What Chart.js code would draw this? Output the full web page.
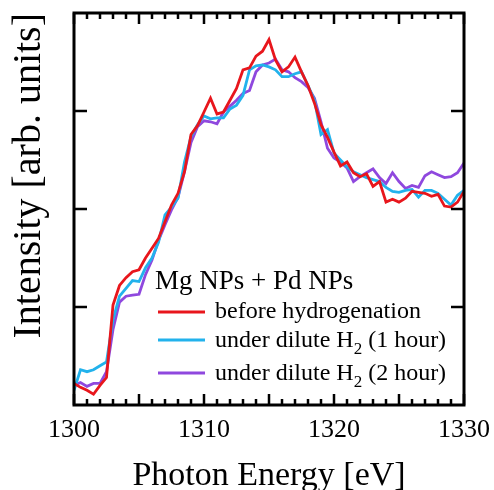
<!DOCTYPE html>
<html><head><meta charset="utf-8">
<script src="https://cdn.jsdelivr.net/npm/chart.js@4"></script>
<style>html,body{margin:0;padding:0;background:#fff;}#wrap{width:494px;height:490px;}</style>
</head><body><div id="wrap"><canvas id="c" width="494" height="490"></canvas></div>
<script>
const energies = [1300,1300.5,1301,1301.5,1302,1302.5,1303,1303.5,1304,1304.5,1305,1305.5,1306,1306.5,1307,1307.5,1308,1308.5,1309,1309.5,1310,1310.5,1311,1311.5,1312,1312.5,1313,1313.5,1314,1314.5,1315,1315.5,1316,1316.5,1317,1317.5,1318,1318.5,1319,1319.5,1320,1320.5,1321,1321.5,1322,1322.5,1323,1323.5,1324,1324.5,1325,1325.5,1326,1326.5,1327,1327.5,1328,1328.5,1329,1329.5,1330];
const before = [0.22,0.18,0.15,0.11,0.20,0.28,1.02,1.22,1.30,1.36,1.38,1.50,1.60,1.70,1.87,2.04,2.16,2.38,2.76,2.85,2.99,3.13,2.97,2.99,3.11,3.23,3.42,3.44,3.56,3.61,3.73,3.52,3.40,3.45,3.55,3.40,3.26,3.08,2.86,2.73,2.58,2.44,2.48,2.37,2.33,2.36,2.23,2.28,2.07,2.10,2.07,2.11,2.18,2.17,2.16,2.13,2.15,2.03,2.02,2.07,2.18];
const h2oneHour = [0.15,0.36,0.34,0.36,0.40,0.44,0.87,1.11,1.19,1.27,1.26,1.40,1.50,1.66,1.94,2.02,2.11,2.48,2.74,2.86,2.95,2.92,2.93,2.93,3.02,3.06,3.16,3.42,3.46,3.47,3.45,3.42,3.35,3.35,3.38,3.40,3.26,3.11,2.76,2.81,2.57,2.50,2.43,2.38,2.35,2.32,2.30,2.28,2.22,2.18,2.17,2.19,2.20,2.12,2.19,2.19,2.16,2.10,2.04,2.14,2.19];
const h2twoHour = [0.20,0.23,0.19,0.22,0.22,0.34,0.77,1.05,1.11,1.12,1.13,1.33,1.48,1.68,1.84,1.99,2.12,2.38,2.68,2.84,2.90,2.89,2.87,2.99,3.05,3.11,3.18,3.21,3.40,3.47,3.49,3.53,3.42,3.40,3.34,3.30,3.24,3.13,2.89,2.62,2.52,2.48,2.42,2.28,2.33,2.37,2.41,2.32,2.26,2.37,2.28,2.21,2.24,2.22,2.34,2.38,2.35,2.32,2.33,2.37,2.47];
const seriesLabels = ['before hydrogenation','under dilute H_{2} (1 hour)','under dilute H_{2} (2 hour)'];
const seriesColors = ['#e8161c','#22b2ec','#8f48de'];
const legendTitle = 'Mg NPs + Pd NPs';
const xTickLabels = ['1300','1310','1320','1330'];
const yMajorTicks = [1,2,3];
const xTitle = 'Photon Energy [eV]';
const yTitle = 'Intensity [arb. units]';
const FONT = "'Liberation Serif','Times New Roman',serif";

const toXY = arr => arr.map((v,i)=>({x:energies[i], y:v}));
const allSeries = [before, h2oneHour, h2twoHour];

const framePlugin = {
  id:'frame',
  afterDatasetsDraw(chart){
    const ctx = chart.ctx, xs = chart.scales.x, ys = chart.scales.y;
    const {left,right,top,bottom} = chart.chartArea;
    ctx.save();
    ctx.strokeStyle='#000'; ctx.lineCap='butt';
    ctx.lineWidth=2.5;
    ctx.beginPath();
    for(let v=xs.min; v<=xs.max; v+=1){
      const px = xs.getPixelForValue(v);
      const len = (v%5===0)?11:6;
      ctx.moveTo(px,bottom); ctx.lineTo(px,bottom-len);
      ctx.moveTo(px,top); ctx.lineTo(px,top+len);
    }
    yMajorTicks.forEach(v=>{
      const py = ys.getPixelForValue(v);
      ctx.moveTo(left,py); ctx.lineTo(left+13,py);
      ctx.moveTo(right,py); ctx.lineTo(right-13,py);
    });
    ctx.stroke();
    ctx.lineWidth=3;
    ctx.strokeRect(left,top,right-left,bottom-top);
    ctx.restore();
  }
};

function drawRich(ctx, text, x, y, size){
  const parts = text.split(/(_\{[^}]*\})/);
  let cx = x;
  parts.forEach(p=>{
    if(!p) return;
    if(p.startsWith('_{')){
      const t = p.slice(2,-1);
      ctx.font = Math.round(size*0.7)+'px '+FONT;
      ctx.fillText(t, cx, y+7);
      cx += ctx.measureText(t).width;
    } else {
      ctx.font = size+'px '+FONT;
      ctx.fillText(p, cx, y);
      cx += ctx.measureText(p).width;
    }
  });
}

const legendPlugin = {
  id:'customLegend',
  afterDraw(chart){
    const ctx = chart.ctx;
    ctx.save();
    ctx.fillStyle='#000';
    ctx.textBaseline='alphabetic';
    ctx.font = '27px '+FONT;
    ctx.fillText(legendTitle, 155, 289);
    const lineYs = [312,340,373];
    const textYs = [318,347,380];
    seriesLabels.forEach((lab,i)=>{
      ctx.strokeStyle = seriesColors[i];
      ctx.lineWidth = 3;
      ctx.beginPath(); ctx.moveTo(158,lineYs[i]); ctx.lineTo(205,lineYs[i]); ctx.stroke();
      ctx.fillStyle='#000';
      drawRich(ctx, lab, 215, textYs[i], 24);
    });
    ctx.restore();
  }
};

new Chart(document.getElementById('c'), {
  type:'line',
  data:{
    datasets: allSeries.map((s,i)=>({
      label: seriesLabels[i].replace('_{2}','₂'),
      data: toXY(s),
      borderColor: seriesColors[i],
      backgroundColor: seriesColors[i],
      borderWidth: 2.8,
      pointRadius: 0,
      tension: 0,
      fill: false
    }))
  },
  options:{
    responsive:false, animation:false, devicePixelRatio:1,
    layout:{padding:{top:13,right:30,left:0,bottom:0}},
    plugins:{legend:{display:false}, tooltip:{enabled:false}},
    scales:{
      x:{
        type:'linear', min:1300, max:1330,
        afterBuildTicks(s){ s.ticks = xTickLabels.map(v=>({value:Number(v)})); },
        ticks:{font:{family:FONT,size:26}, color:'#000', padding:10, maxRotation:0, autoSkip:false,
               callback:(v)=>String(v)},
        grid:{display:false, drawTicks:false},
        border:{display:false},
        title:{display:true, text:xTitle, color:'#000', font:{family:FONT,size:34,lineHeight:0.6}, padding:{top:0,bottom:4}},
        afterFit(s){ s.height = 85; s.paddingLeft = 0; s.paddingRight = 0; }
      },
      y:{
        type:'linear', min:0, max:4,
        ticks:{display:false},
        grid:{display:false, drawTicks:false},
        border:{display:false},
        title:{display:true, text:yTitle, align:'end', color:'#000', font:{family:FONT,size:40,lineHeight:1}, padding:{top:9,bottom:0}},
        afterFit(s){ s.width = 74; s.paddingTop = 0; s.paddingBottom = 0; }
      }
    }
  },
  plugins:[framePlugin, legendPlugin]
});
</script></body></html>
